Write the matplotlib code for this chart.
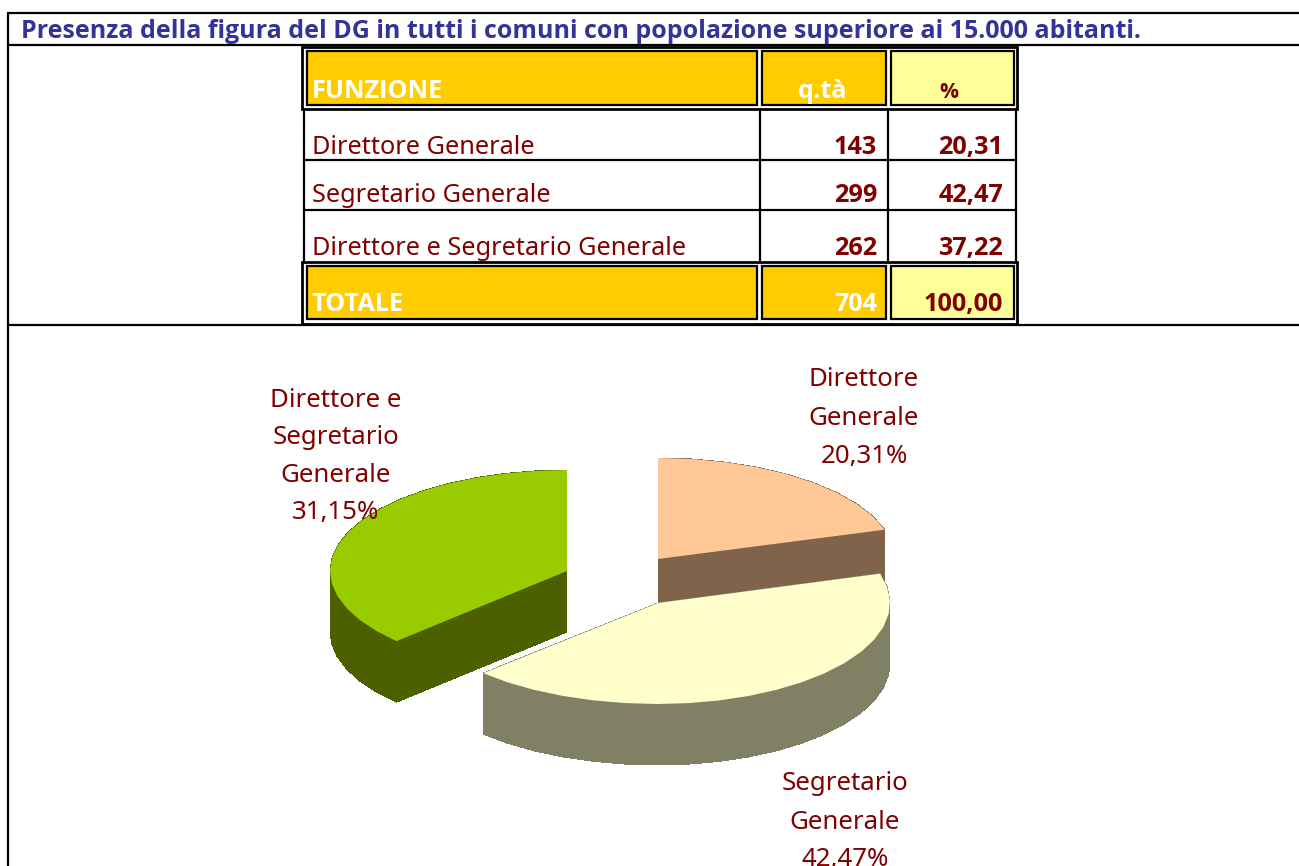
import numpy as np
import matplotlib
matplotlib.use("Agg")
import matplotlib.pyplot as plt
from matplotlib.patches import Rectangle, Polygon

# ---- data ----
title = "Presenza della figura del DG in tutti i comuni con popolazione superiore ai 15.000 abitanti."
header = ["FUNZIONE", "q.tà", "%"]
functions = ["Direttore Generale", "Segretario Generale", "Direttore e Segretario Generale"]
quantities = [143, 299, 262]
percent_text = ["20,31", "42,47", "37,22"]
total_row = ["TOTALE", "704", "100,00"]
pie_values = [20.31, 42.47, 37.22]
pie_labels = [["Direttore", "Generale", "20,31%"],
              ["Segretario", "Generale", "42,47%"],
              ["Direttore e", "Segretario", "Generale", "31,15%"]]

DARK = "#800000"; BLUE = "#333399"; ORANGE = "#FFCC00"; PALE = "#FFFF99"
REG = "Noto Sans"
BOLD = "Open Sans"
plt.rcParams["font.family"] = [REG, "DejaVu Sans"]

fig = plt.figure(figsize=(12.99, 8.66), dpi=100)
ax = fig.add_axes([0, 0, 1, 1])
ax.set_xlim(0, 1299); ax.set_ylim(866, 0); ax.axis("off")
LW = 1.6

def hline(y, x0, x1, lw=LW):
    ax.plot([x0, x1], [y, y], color="black", lw=lw, solid_capstyle="butt", zorder=3)
def vline(x, y0, y1, lw=LW):
    ax.plot([x, x], [y0, y1], color="black", lw=lw, solid_capstyle="butt", zorder=3)
def btext(x, y, s, color, size, ha="left"):
    ax.text(x, y, s, color=color, fontsize=size, fontweight="bold", family=BOLD, ha=ha, zorder=5)

# frame
hline(13, 7, 1299); hline(45, 7, 1299); hline(324.5, 7, 1299); vline(8, 12, 866)
btext(21, 38, title, BLUE, 18.0)

# table
cols = [(307, 757), (762, 886), (891, 1014)]
def band(y0, y1, outer0, outer1):
    ax.add_patch(Rectangle((302.5, outer0), 715, outer1 - outer0, fc="none", ec="black", lw=2.0, zorder=3))
    for (x0, x1), c in zip(cols, [ORANGE, ORANGE, PALE]):
        ax.add_patch(Rectangle((x0, y0), x1 - x0, y1 - y0, fc=c, ec="black", lw=LW, zorder=2))
band(51, 104.5, 47, 108.5)
band(265.5, 319, 261.5, 323.5)
for x in (304, 759.6, 888, 1016):
    vline(x, 108, 262)
for y in (160, 210):
    hline(y, 303, 1017)

fs = 18.2      # regular text
bs = 18.2      # bold text
btext(312, 98, header[0], "white", bs)
btext(823, 98, header[1], "white", bs, ha="center")
btext(949, 98, header[2], DARK, bs - 3, ha="center")
for name, q, p, y in zip(functions, quantities, percent_text, (154, 202, 255)):
    ax.text(312, y, name, color=DARK, fontsize=fs, zorder=5)
    btext(877, y, str(q), DARK, bs, ha="right")
    btext(1003, y, p, DARK, bs, ha="right")
btext(312, 311, total_row[0], "white", bs)
btext(877, 311, total_row[1], "white", bs, ha="right")
btext(1003, 311, total_row[2], DARK, bs, ha="right")

# 3-D exploded pie, angles taken from the values (clockwise from 12 o'clock)
fractions = np.cumsum([0] + pie_values) / np.sum(pie_values) * 2 * np.pi
slices = [
    dict(i=0, apex=(658, 559), rx=(237, 237), top="#FFC896", wall="#80634B"),
    dict(i=2, apex=(567, 571), rx=(237, 237), top="#99CC00", wall="#4D6000"),
    dict(i=1, apex=(658, 603), rx=(232, 243), top="#FFFFCC", wall="#808064"),
]
RY, DEPTH = 101, 61
for s in slices:
    a0, a1 = fractions[s["i"]], fractions[s["i"] + 1]
    t = np.linspace(a0, a1, max(int(np.degrees(a1 - a0) / 7), 3))
    sx = np.sin(t)
    rx = np.where(sx >= 0, s["rx"][0], s["rx"][1])
    pts = np.column_stack([s["apex"][0] + rx * sx, s["apex"][1] - RY * np.cos(t)])
    pts = np.vstack([s["apex"], pts])
    closed = np.vstack([pts, pts[:1]])
    for p, q in zip(closed[:-1], closed[1:]):
        quad = [p, q, q + (0, DEPTH), p + (0, DEPTH)]
        ax.add_patch(Polygon(quad, fc=s["wall"], ec="none", lw=0, antialiased=False, zorder=1))
    ax.add_patch(Polygon(pts, fc=s["top"], ec="none", lw=0, zorder=1))

# pie labels
label_pos = [(864, (386, 425, 463)), (845, (790, 829, 866)), (336, (407, 444, 482, 519))]
for lines, (cx, ys) in zip(pie_labels, label_pos):
    for line, y in zip(lines, ys):
        ax.text(cx, y, line, color=DARK, fontsize=18.6, ha="center", zorder=5)

fig.savefig("out.png", dpi=100)
